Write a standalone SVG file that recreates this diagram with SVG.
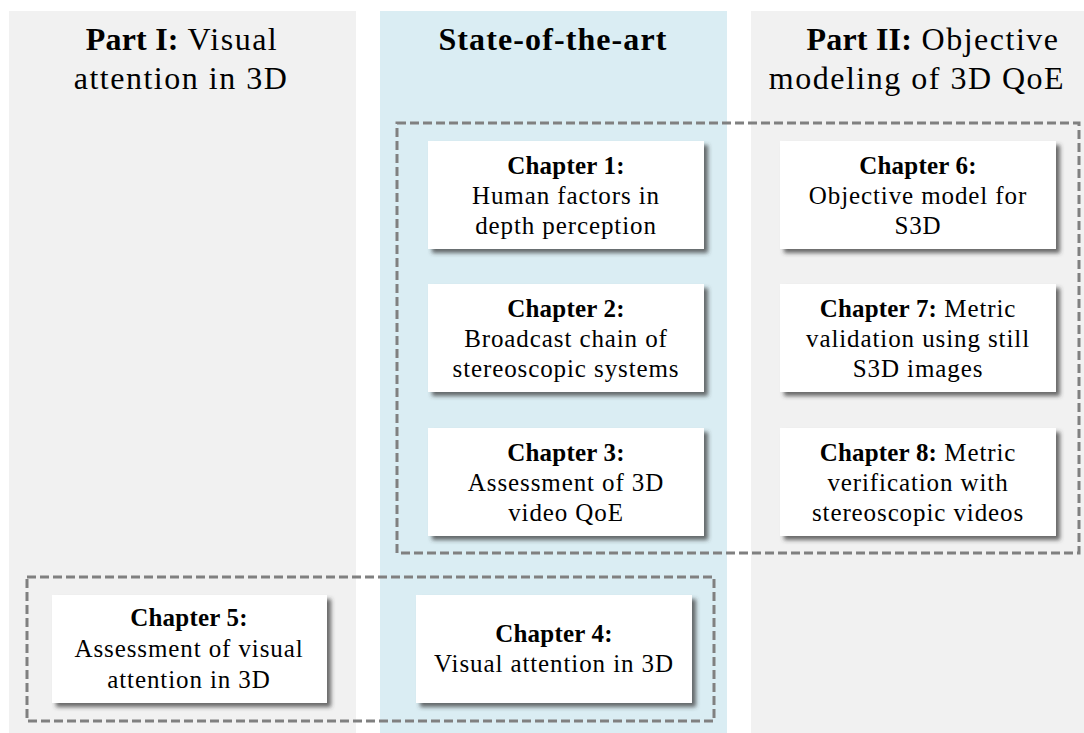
<svg xmlns="http://www.w3.org/2000/svg" width="1084" height="733" viewBox="0 0 1084 733">
<defs>
<filter id="sh" x="-10%" y="-10%" width="125%" height="130%">
<feDropShadow dx="4" dy="4" stdDeviation="2" flood-color="#3a3a3a" flood-opacity="0.75"/>
</filter>
<style>
.panel{fill:#f1f1f1}
.mid{fill:#daedf3}
.box{fill:#ffffff;filter:url(#sh)}
.dash{fill:none;stroke:#808080;stroke-width:3;stroke-dasharray:9 4}
text{font-family:"Liberation Serif","Times New Roman",serif;fill:#000;text-anchor:middle}
.t{font-size:32px;letter-spacing:1.5px}
.c{font-size:25px;letter-spacing:0.9px}
.b{font-weight:bold;letter-spacing:0.2px}
</style>
</defs>
<rect id="panel-left" class="panel" x="9" y="11" width="347" height="722"/>
<rect id="panel-mid" class="mid" x="380" y="11" width="347" height="722"/>
<rect id="panel-right" class="panel" x="751" y="11" width="333" height="722"/>

<g id="titles">
<text class="t" x="182" y="50"><tspan class="b">Part I:</tspan> Visual</text>
<text class="t" x="181" y="89">attention in 3D</text>
<text class="t b" x="553" y="50" style="letter-spacing:1.1px">State-of-the-art</text>
<text class="t" x="933" y="50"><tspan class="b">Part II:</tspan> Objective</text>
<text class="t" x="917" y="89">modeling of 3D QoE</text>
</g>

<g id="groups">
<rect class="dash" x="397" y="123" width="682" height="430"/>
<rect class="dash" x="27" y="577" width="687" height="144"/>
</g>

<g id="ch1">
<rect class="box" x="428" y="141" width="276" height="108"/>
<text class="c" x="566" y="174"><tspan class="b">Chapter 1:</tspan></text>
<text class="c" x="566" y="204">Human factors in</text>
<text class="c" x="566" y="234">depth perception</text>
</g>
<g id="ch2">
<rect class="box" x="428" y="284" width="276" height="108"/>
<text class="c" x="566" y="317"><tspan class="b">Chapter 2:</tspan></text>
<text class="c" x="566" y="347">Broadcast chain of</text>
<text class="c" x="566" y="377">stereoscopic systems</text>
</g>
<g id="ch3">
<rect class="box" x="428" y="428" width="276" height="108"/>
<text class="c" x="566" y="461"><tspan class="b">Chapter 3:</tspan></text>
<text class="c" x="566" y="491">Assessment of 3D</text>
<text class="c" x="566" y="521">video QoE</text>
</g>
<g id="ch6">
<rect class="box" x="780" y="141" width="276" height="108"/>
<text class="c" x="918" y="174"><tspan class="b">Chapter 6:</tspan></text>
<text class="c" x="918" y="204">Objective model for</text>
<text class="c" x="918" y="234">S3D</text>
</g>
<g id="ch7">
<rect class="box" x="780" y="284" width="276" height="108"/>
<text class="c" x="918" y="317"><tspan class="b">Chapter 7:</tspan>  Metric</text>
<text class="c" x="918" y="347">validation using still</text>
<text class="c" x="918" y="377">S3D images</text>
</g>
<g id="ch8">
<rect class="box" x="780" y="428" width="276" height="108"/>
<text class="c" x="918" y="461"><tspan class="b">Chapter 8:</tspan>  Metric</text>
<text class="c" x="918" y="491">verification with</text>
<text class="c" x="918" y="521">stereoscopic videos</text>
</g>
<g id="ch5">
<rect class="box" x="52" y="595" width="275" height="108"/>
<text class="c" x="189" y="626"><tspan class="b">Chapter 5:</tspan></text>
<text class="c" x="189" y="657">Assessment of visual</text>
<text class="c" x="189" y="688">attention in 3D</text>
</g>
<g id="ch4">
<rect class="box" x="416" y="595" width="276" height="108"/>
<text class="c" x="554" y="642"><tspan class="b">Chapter 4:</tspan></text>
<text class="c" x="554" y="672">Visual attention in 3D</text>
</g>
</svg>
